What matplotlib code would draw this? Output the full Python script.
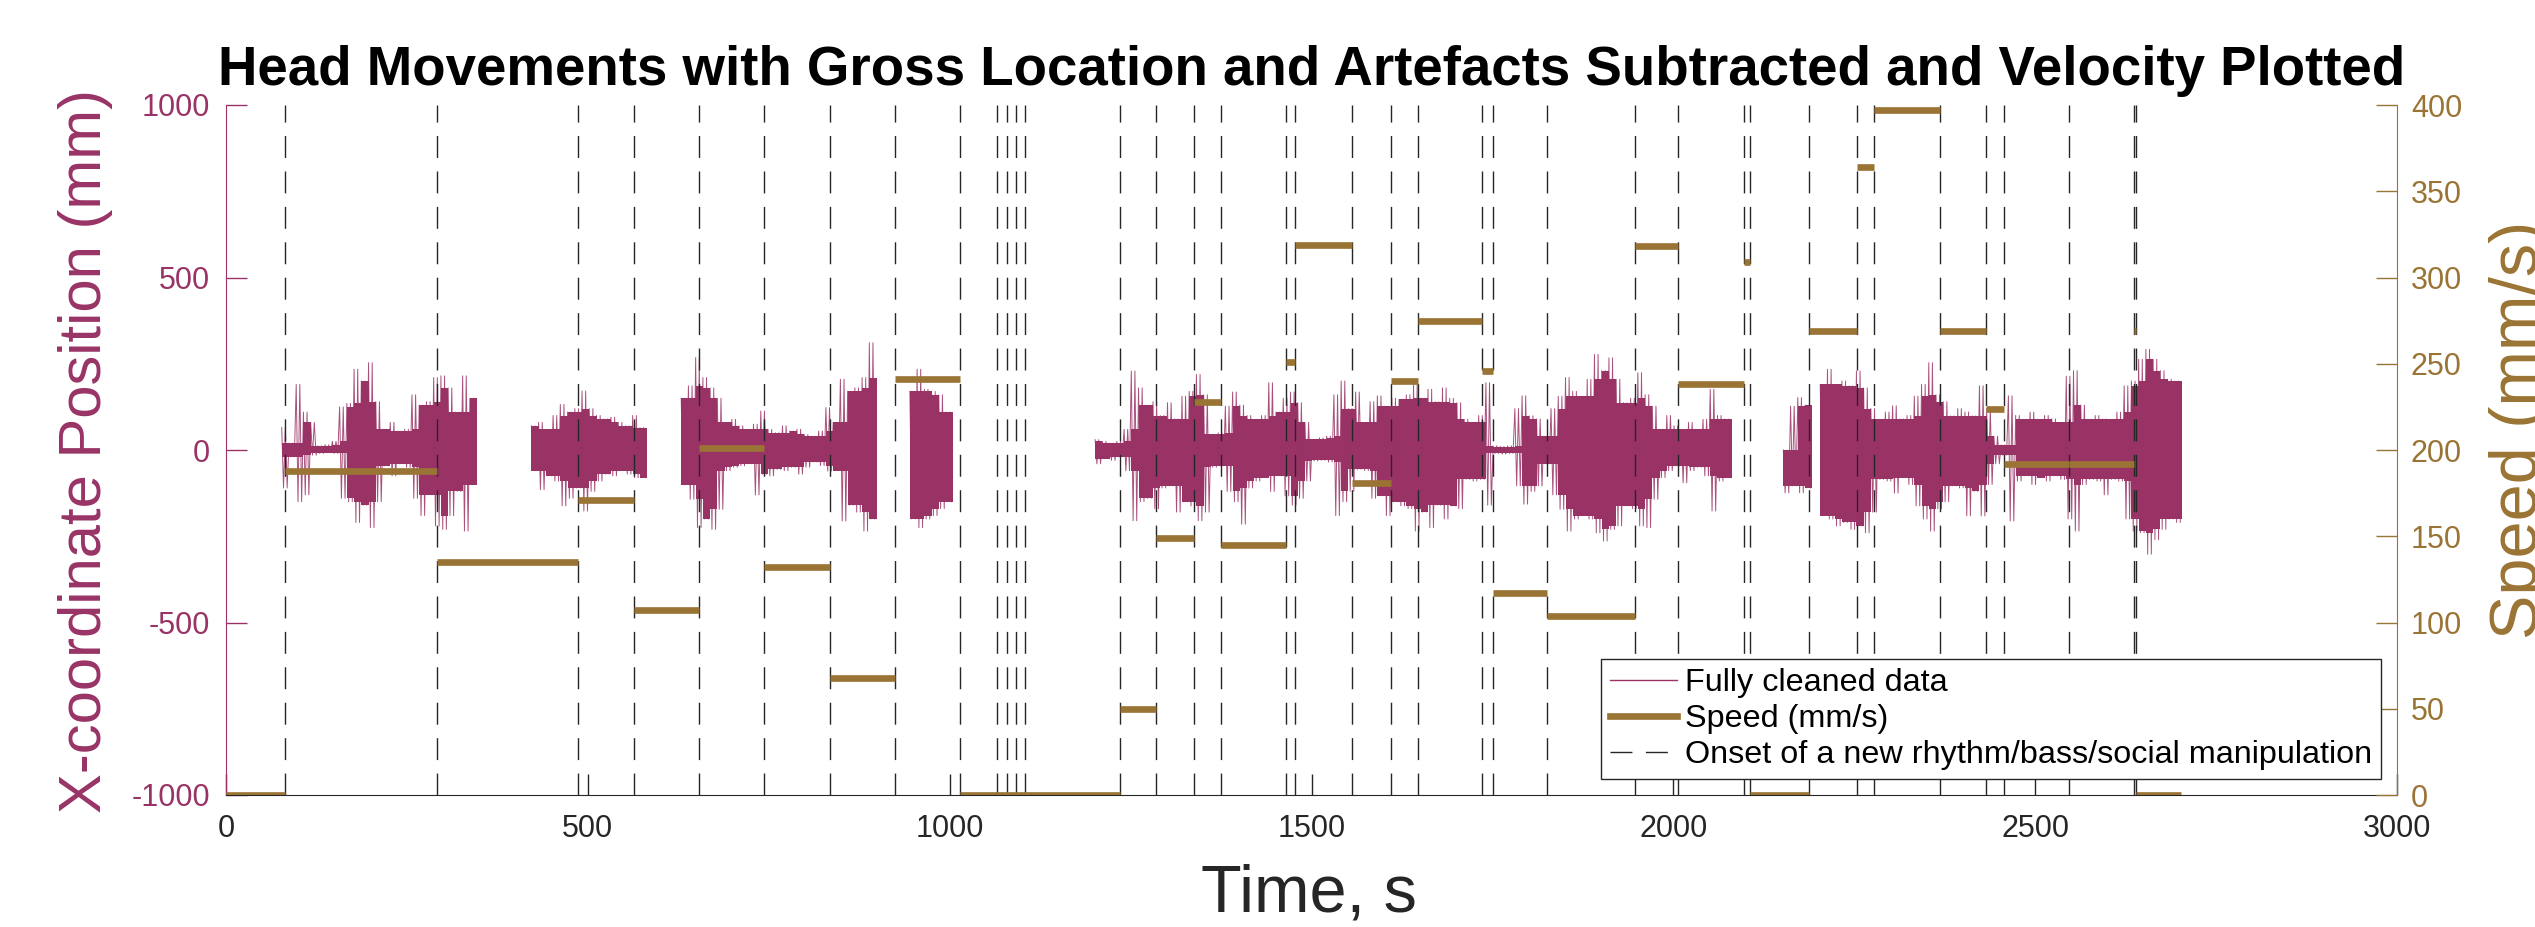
# Head movements: cleaned x-coordinate trace, per-section speed and onset markers
import matplotlib
matplotlib.use("Agg")
import matplotlib.pyplot as plt
from matplotlib.lines import Line2D

plt.rcParams['font.family'] = ['Liberation Sans', 'DejaVu Sans']
plt.rcParams['axes.unicode_minus'] = False
plt.rcParams['lines.scale_dashes'] = False

MAGENTA = '#993366'
GOLD = '#9a7434'
GREY = '#262626'

# onset times of each new rhythm/bass/social manipulation (s)
onsets = [81, 292, 486, 564, 653, 744, 834, 924, 1014, 1066, 1079, 1092, 1104,
          1235, 1285, 1338, 1375, 1465, 1477, 1556, 1610, 1647, 1735, 1751,
          1826, 1947, 2007, 2097, 2106, 2187, 2254, 2277, 2368, 2432, 2457,
          2547, 2636, 2639]

# mean speed per section (mm/s)
speed_start = [0, 81, 292, 486, 564, 653, 744, 834, 924, 1014, 1235, 1285, 1338,
               1375, 1465, 1477, 1556, 1610, 1647, 1735, 1751, 1826, 1947, 2007,
               2097, 2106, 2187, 2254, 2277, 2368, 2432, 2457, 2547, 2636, 2639]
speed_end = [81, 292, 486, 564, 653, 744, 834, 924, 1014, 1235, 1285, 1338, 1375,
             1465, 1477, 1556, 1610, 1647, 1735, 1751, 1826, 1947, 2007, 2097,
             2106, 2187, 2254, 2277, 2368, 2432, 2457, 2547, 2636, 2639, 2701]
speed_val = [0, 188, 135, 171, 107, 201, 132, 68, 241, 0, 50, 149, 228, 145, 251,
             319, 181, 240, 275, 246, 117, 104, 318, 238, 309, 0, 269, 364, 397,
             269, 224, 192, 192, 269, 0]

# cleaned x position, read as max/min per 10 s bin, one list per recorded stretch
BIN = 10
seg_start = [77, 422, 629, 945, 1201, 2152, 2203]

a_up = [65, 20, 190, 110, 80, 12, 15, 25, 125, 135, 234, 200, 253, 140, 60, 80,
        55, 60, 160, 130, 140, 210, 215, 180, 110, 215, 150]
a_lo = [-110, -20, -150, -130, -15, -10, -8, -10, -140, -150, -210, -160, -225,
        -150, -46, -75, -40, -50, -140, -190, -130, -220, -230, -190, -120, -235, -100]

b_up = [70, 80, 60, 100, 132, 110, 120, 171, 120, 100, 90, 95, 80, 70, 100, 65]
b_lo = [-60, -115, -75, -90, -162, -140, -110, -177, -120, -90, -70, -75, -60,
        -70, -80, -80]

c_up = [150, 186, 268, 210, 180, 150, 80, 89, 70, 60, 75, 113, 60, 50, 70, 55,
        60, 45, 40, 55, 123, 80, 205, 170, 180, 210, 311]
c_lo = [-100, -143, -225, -200, -230, -172, -60, -50, -46, -40, -130, -70, -75,
        -56, -60, -50, -70, -50, -35, -45, -61, -60, -206, -160, -180, -235, -200]

d_up = [170, 234, 176, 170, 160, 110]
d_lo = [-200, -225, -200, -190, -170, -150]

e_up = [30, 25, 20, 25, 60, 229, 180, 130, 140, 100,
        137, 90, 156, 170, 219, 160, 45, 50, 127, 168,
        130, 100, 89, 100, 195, 110, 150, 168, 137, 80,
        31, 35, 40, 160, 200, 120, 168, 80, 140, 157,
        127, 150, 147, 160, 190, 150, 176, 140, 180, 150,
        137, 89, 80, 100, 195, 12, 10, 12, 120, 157,
        99, 90, 40, 120, 156, 210, 170, 156, 205, 277,
        230, 267, 205, 137, 150, 224, 160, 127, 60, 100,
        70, 60, 80, 60, 89, 176, 100, 90]
e_lo = [-40, -25, -30, -20, -60, -205, -150, -140, -170, -110,
        -104, -180, -150, -162, -205, -180, -50, -46, -120, -150,
        -215, -110, -90, -80, -120, -75, -133, -160, -140, -90,
        -32, -30, -35, -190, -150, -120, -56, -60, -140, -133,
        -190, -150, -162, -170, -235, -180, -225, -160, -200, -162,
        -170, -85, -90, -85, -160, -10, -12, -10, -104, -157,
        -120, -104, -40, -130, -172, -235, -200, -190, -200, -240,
        -264, -230, -220, -162, -170, -220, -225, -143, -80, -60,
        -46, -95, -60, -50, -75, -177, -90, -80]

g_up = [0, 127, 152, 130]
g_lo = [-124, -104, -124, -110]

h_up = [190, 234, 190, 200, 186, 229, 180, 120, 89, 110,
        128, 90, 100, 156, 190, 253, 160, 140, 99, 120,
        110, 99, 186, 120, 40, 15, 157, 100, 89, 110,
        89, 100, 90, 80, 214, 230, 130, 89, 100, 90,
        89, 110, 186, 200, 263, 292, 263, 230, 205, 200]
h_lo = [-190, -200, -220, -210, -230, -220, -240, -180, -85, -90,
        -125, -80, -100, -162, -200, -235, -170, -150, -104, -110,
        -191, -120, -191, -100, -40, -15, -206, -90, -75, -100,
        -80, -90, -75, -85, -200, -235, -100, -85, -90, -130,
        -85, -90, -200, -235, -240, -302, -260, -230, -200, -210]

seg_up = [a_up, b_up, c_up, d_up, e_up, g_up, h_up]
seg_lo = [a_lo, b_lo, c_lo, d_lo, e_lo, g_lo, h_lo]

legend_labels = ['Fully cleaned data', 'Speed (mm/s)',
                 'Onset of a new rhythm/bass/social manipulation']

W, H = 2535, 927
fig = plt.figure(figsize=(W / 100, H / 100), dpi=100)
ax = fig.add_axes([226 / W, 1 - 795 / H, (2397 - 226) / W, (795 - 105) / H])
ax2 = ax.twinx()

# trace: dense core (smallest swing of a bin and its neighbours) as a solid band,
# the full per-bin swings drawn over it as hair lines
SWINGS = 2
for t0, ups, los in zip(seg_start, seg_up, seg_lo):
    n = len(ups)
    tb = [t0 + BIN * k for k in range(n + 1)]
    core_up = [min(ups[max(k - 1, 0):k + 2]) for k in range(n)]
    core_lo = [max(los[max(k - 1, 0):k + 2]) for k in range(n)]
    ax.fill_between(tb, core_lo + core_lo[-1:], core_up + core_up[-1:],
                    step='post', color=MAGENTA, lw=0)
    tz, yz = [], []
    step = BIN / (2 * SWINGS)
    for k in range(n):
        for j in range(SWINGS):
            tz += [tb[k] + 2 * j * step, tb[k] + (2 * j + 1) * step]
            yz += [ups[k], los[k]]
    ax.plot(tz, yz, color=MAGENTA, lw=0.7, alpha=0.85)

ax.set_xlim(0, 3000)
ax.set_ylim(-1000, 1000)
ax.set_xticks(range(0, 3001, 500))
ax.set_yticks([-1000, -500, 0, 500, 1000])

# onset lines, then speed bars on the right-hand axis
for x in onsets:
    ax2.plot([x, x], [0, 400], color=GREY, lw=1.0, dashes=(15.8, 9.7), zorder=2)
ax2.hlines(speed_val, speed_start, speed_end, colors=GOLD, lw=4.8, zorder=3)
ax2.set_ylim(0, 400)
ax2.set_yticks(range(0, 401, 50))

# axes styling
ax.spines['top'].set_visible(False)
ax.spines['right'].set_visible(False)
ax.spines['left'].set_color(MAGENTA)
ax.spines['bottom'].set_color(GREY)
for s in ['top', 'left', 'bottom']:
    ax2.spines[s].set_visible(False)
ax2.spines['right'].set_color(GOLD)

ax.tick_params(axis='y', colors=MAGENTA, labelsize=22, direction='in',
               length=15, width=1, pad=11.5)
ax.tick_params(axis='x', colors=GREY, labelsize=22, direction='in',
               length=15, width=1, pad=14)
ax2.tick_params(axis='y', colors=GOLD, labelsize=22, direction='in',
                length=15, width=1, pad=10)

# legend
h1 = Line2D([], [], color=MAGENTA, lw=1.0)
h2 = Line2D([], [], color=GOLD, lw=4.8)
h3 = Line2D([], [], color=GREY, lw=1.0, dashes=(15.8, 9.7))
leg = ax2.legend([h1, h2, h3], legend_labels, loc='lower right',
                 bbox_to_anchor=(2381 / W, 1 - 779 / H), bbox_transform=fig.transFigure,
                 borderaxespad=0, fontsize=23.3, handlelength=2.05, handletextpad=0.25,
                 borderpad=0.28, labelspacing=0.18, fancybox=False,
                 edgecolor=GREY, framealpha=1)
leg.get_frame().set_linewidth(1.0)

# texts
fig.text(1312 / W, 1 - 85 / H,
         'Head Movements with Gross Location and Artefacts Subtracted and Velocity Plotted',
         ha='center', va='baseline', fontsize=39.3, weight='bold', color='black')
fig.text(1309 / W, 1 - 911 / H, 'Time, s', ha='center', va='baseline',
         fontsize=48, color=GREY)
fig.text(58 / W, 1 - 451 / H, 'X-coordinate Position (mm)', rotation=90,
         ha='left', va='center', fontsize=43, color=MAGENTA)
fig.text(2489 / W, 1 - 430 / H, 'Speed (mm/s)', rotation=90,
         ha='left', va='center', fontsize=48, color=GOLD)

fig.savefig('out.png', dpi=100)
